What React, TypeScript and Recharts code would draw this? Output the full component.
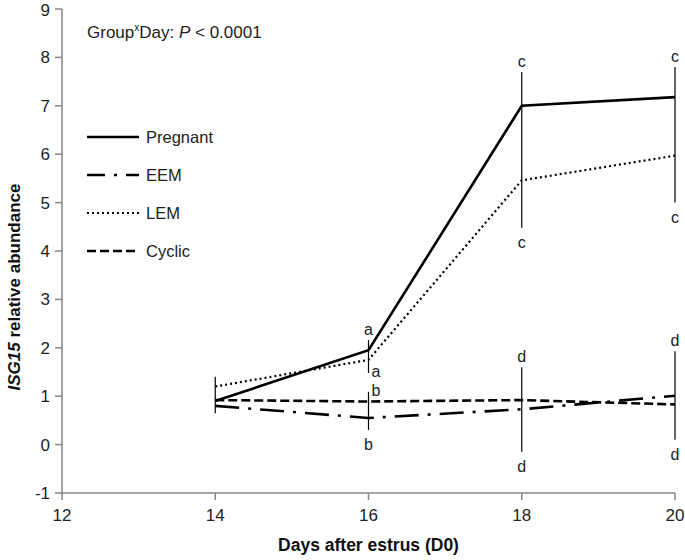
import React from "react";
import {
  ComposedChart,
  Line,
  Scatter,
  XAxis,
  YAxis,
  ReferenceLine,
  Legend,
} from "recharts";

// days sampled
const days = [14, 16, 18, 20];

// ISG15 relative abundance per group
const pregnant = [0.9, 1.95, 7.0, 7.18];
const eem = [0.8, 0.55, 0.73, 1.01];
const lem = [1.2, 1.75, 5.46, 5.97];
const cyclic = [0.92, 0.89, 0.92, 0.83];

// vertical bars with their letters
const barDays = [14, 16, 16, 18, 18, 20, 20];
const barLows = [0.65, 1.48, 0.3, 4.48, -0.15, 5.0, 0.1];
const barHighs = [1.4, 2.16, 1.09, 7.7, 1.6, 7.8, 1.93];
const barTopLetters = ["", "a", "b", "c", "d", "c", "d"];
const barBottomLetters = ["", "a", "b", "c", "d", "c", "d"];
const barTopBeside = [false, false, true, false, false, false, false];
const barBottomBeside = [false, true, false, false, false, false, false];

const xTicks = [12, 14, 16, 18, 20];
const yTicks = [-1, 0, 1, 2, 3, 4, 5, 6, 7, 8, 9];

const FONT = "'Liberation Sans', Arial, sans-serif";
const AXIS = "#868686";

const series = [
  { key: "pregnant", name: "Pregnant", dash: undefined, width: 2.6 },
  { key: "eem", name: "EEM", dash: "24 9 3 9", width: 2.6 },
  { key: "lem", name: "LEM", dash: "2 3", width: 2.2 },
  { key: "cyclic", name: "Cyclic", dash: "9 4", width: 2.6 },
];

const data = days.map((d, i) => ({
  day: d,
  pregnant: pregnant[i],
  eem: eem[i],
  lem: lem[i],
  cyclic: cyclic[i],
}));

const letters: { day: number; value: number; text: string; top: boolean; beside: boolean }[] = [];
barDays.forEach((d, i) => {
  if (barTopLetters[i])
    letters.push({ day: d, value: barHighs[i], text: barTopLetters[i], top: true, beside: barTopBeside[i] });
  if (barBottomLetters[i])
    letters.push({ day: d, value: barLows[i], text: barBottomLetters[i], top: false, beside: barBottomBeside[i] });
});

const Letter = (props: any) => {
  const { cx, cy, payload } = props;
  if (cx == null || cy == null) return <g />;
  if (payload.beside) {
    return (
      <text x={cx + 3} y={cy + 4} fontSize={16} fontFamily={FONT} fill="#222" textAnchor="start">
        {payload.text}
      </text>
    );
  }
  return (
    <text x={cx} y={payload.top ? cy - 5 : cy + 20} fontSize={16} fontFamily={FONT} fill="#222" textAnchor="middle">
      {payload.text}
    </text>
  );
};

const LegendBox = () => (
  <svg width={140} height={150} style={{ display: "block" }}>
    {series.map((s, i) => (
      <g key={s.key}>
        <line
          x1={0}
          x2={52}
          y1={15 + i * 38}
          y2={15 + i * 38}
          stroke="#000"
          strokeWidth={s.width}
          strokeDasharray={s.key === "eem" ? "18 9 3 9 3 0" : s.dash}
        />
        <text x={59} y={21 + i * 38} fontSize={16.5} fontFamily={FONT} fill="#222">
          {s.name}
        </text>
      </g>
    ))}
  </svg>
);

const YLabel = (props: any) => {
  const vb = props.viewBox || { x: 0, y: 0, height: 0 };
  const x = 20;
  const y = vb.y + vb.height / 2 + 36;
  return (
    <text x={x} y={y} transform={`rotate(-90 ${x} ${y})`} textAnchor="middle" fontSize={17} fontWeight="bold" fontFamily={FONT} fill="#111">
      <tspan fontStyle="italic">ISG15</tspan>
      <tspan> relative abundance</tspan>
    </text>
  );
};

const XLabel = (props: any) => {
  const vb = props.viewBox || { x: 0, y: 0, width: 0 };
  return (
    <text x={vb.x + vb.width / 2} y={551} textAnchor="middle" fontSize={17.5} fontWeight="bold" fontFamily={FONT} fill="#111">
      Days after estrus (D0)
    </text>
  );
};

export default function App() {
  return (
    <div
      style={{
        position: "absolute",
        left: 0,
        top: 0,
        width: 685,
        height: 560,
        overflow: "hidden",
        background: "#fff",
      }}
    >
      <ComposedChart
        width={685}
        height={560}
        data={data}
        margin={{ top: 9, right: 10, left: 0, bottom: 0 }}
      >
        <XAxis
          dataKey="day"
          type="number"
          domain={[12, 20]}
          ticks={xTicks}
          height={67}
          stroke={AXIS}
          strokeWidth={1.5}
          tickSize={7}
          tickMargin={9}
          tick={{ fontSize: 17, fontFamily: FONT, fill: "#222" }}
          label={{ content: XLabel }}
        />
        <YAxis
          type="number"
          domain={[-1, 9]}
          ticks={yTicks}
          width={62}
          stroke={AXIS}
          strokeWidth={1.5}
          tickSize={7}
          tickMargin={5}
          tick={{ fontSize: 17, fontFamily: FONT, fill: "#222" }}
          label={{ content: YLabel }}
        />
        <Legend
          layout="vertical"
          verticalAlign="middle"
          align="center"
          content={LegendBox}
          wrapperStyle={{ left: 87, top: 122, width: 140, height: 150 }}
        />
        {barDays.map((d, i) => (
          <ReferenceLine
            key={"bar" + i}
            segment={[
              { x: d, y: barLows[i] },
              { x: d, y: barHighs[i] },
            ]}
            stroke="#000"
            strokeWidth={1.2}
            ifOverflow="visible"
          />
        ))}
        {series.map((s) => (
          <Line
            key={s.key}
            dataKey={s.key}
            name={s.name}
            stroke="#000"
            strokeWidth={s.width}
            strokeDasharray={s.dash}
            dot={false}
            activeDot={false}
            legendType="none"
            isAnimationActive={false}
          />
        ))}
        <Scatter
          data={letters}
          dataKey="value"
          shape={Letter}
          legendType="none"
          isAnimationActive={false}
        />
      </ComposedChart>
      <div
        style={{
          position: "absolute",
          left: 87,
          top: 22,
          fontSize: 17,
          fontFamily: FONT,
          color: "#222",
          whiteSpace: "nowrap",
        }}
      >
        Group<sup style={{ fontSize: 10 }}>x</sup>Day: <i>P</i> &lt; 0.0001
      </div>
    </div>
  );
}
